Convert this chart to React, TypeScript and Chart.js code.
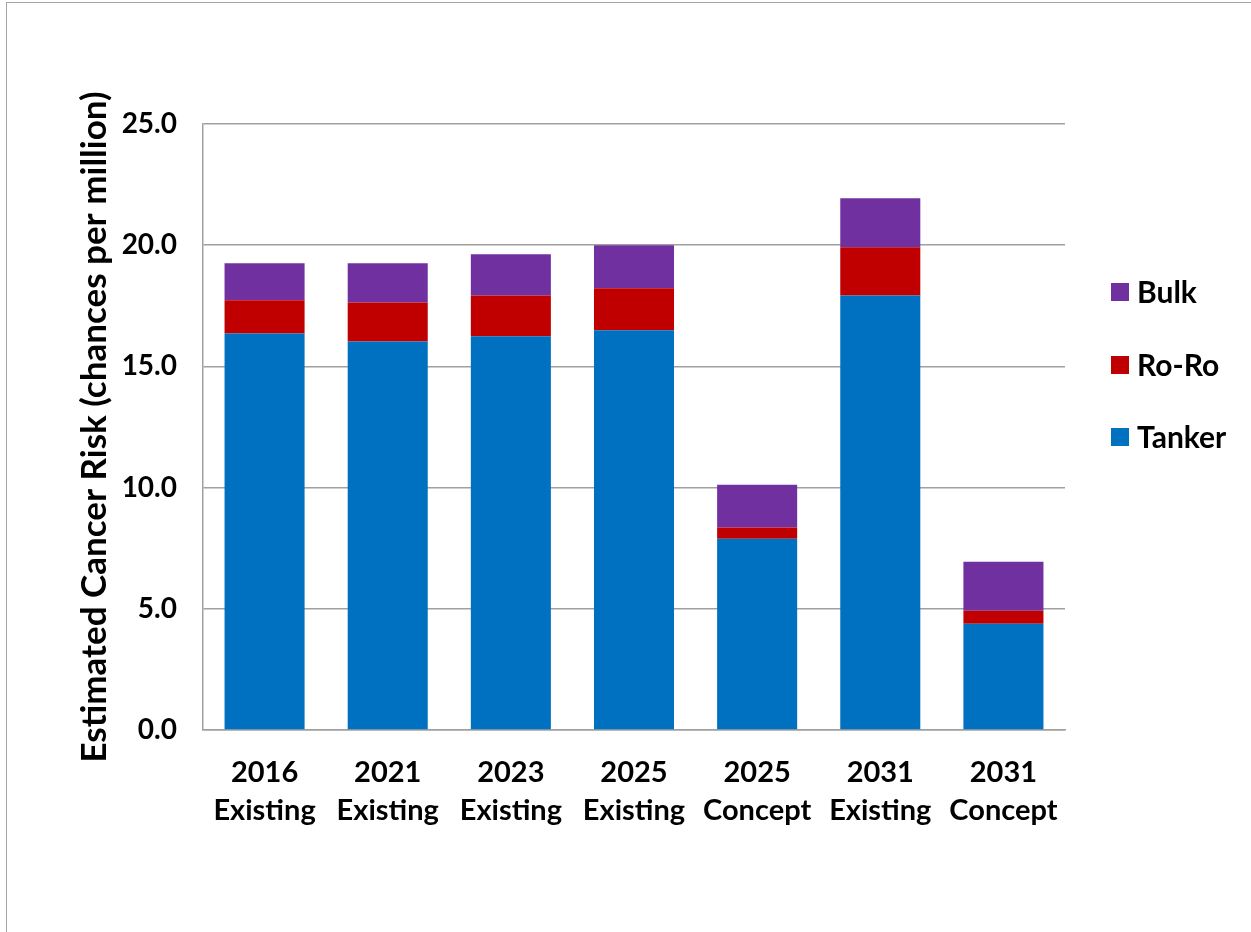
import React, { useEffect, useRef } from "react";
import { Chart, registerables } from "chart.js";

Chart.register(...registerables);

const categories: string[][] = [
  ["2016", "Existing"],
  ["2021", "Existing"],
  ["2023", "Existing"],
  ["2025", "Existing"],
  ["2025", "Concept"],
  ["2031", "Existing"],
  ["2031", "Concept"],
];
const tanker = [16.36, 16.03, 16.24, 16.49, 7.89, 17.93, 4.38];
const roro = [1.37, 1.61, 1.69, 1.73, 0.46, 1.99, 0.54];
const bulk = [1.53, 1.62, 1.7, 1.78, 1.77, 2.02, 2.02];
const legendOrder = ["Bulk", "Ro-Ro", "Tanker"];

const FONT = "Lato, 'Open Sans', sans-serif";

const legendPlugin = {
  id: "customLegend",
  afterDraw(chart: any) {
    const ctx = chart.ctx;
    const ys = [292, 365, 437];
    ctx.save();
    legendOrder.forEach((name, i) => {
      const ds = chart.data.datasets.find((d: any) => d.label === name);
      ctx.fillStyle = ds.backgroundColor;
      ctx.fillRect(1111, ys[i] - 9, 18, 18);
      ctx.fillStyle = "#000";
      ctx.font = `bold 30px ${FONT}`;
      ctx.textBaseline = "middle";
      ctx.textAlign = "left";
      ctx.fillText(name, 1137, ys[i] + 1);
    });
    ctx.restore();
  },
};

export default function App() {
  const ref = useRef<HTMLCanvasElement>(null);
  useEffect(() => {
    document.body.style.margin = "0";
    const chart = new Chart(ref.current!, {
      type: "bar",
      data: {
        labels: categories,
        datasets: [
          { label: "Tanker", data: tanker, backgroundColor: "#0070C0" },
          { label: "Ro-Ro", data: roro, backgroundColor: "#C00000" },
          { label: "Bulk", data: bulk, backgroundColor: "#7030A0" },
        ],
      },
      options: {
        animation: false,
        responsive: false,
        devicePixelRatio: 1,
        layout: { padding: { left: 74, top: 124, right: 186, bottom: 0 } },
        datasets: { bar: { barPercentage: 0.65, categoryPercentage: 1 } },
        plugins: { legend: { display: false }, tooltip: { enabled: false } },
        scales: {
          x: {
            stacked: true,
            grid: { display: false, drawTicks: false },
            border: { color: "#a0a0a0", width: 1.5 },
            ticks: {
              color: "#000",
              font: { family: FONT, size: 29, weight: "bold", lineHeight: 1.31 },
              padding: 24,
              maxRotation: 0,
            },
            afterFit: (s: any) => {
              s.height = 202;
            },
          },
          y: {
            stacked: true,
            min: 0,
            max: 25,
            ticks: {
              stepSize: 5,
              color: "#000",
              font: { family: FONT, size: 28, weight: "bold" },
              padding: 26,
              callback: (v: any) => Number(v).toFixed(1),
            },
            grid: { color: "#a0a0a0", lineWidth: 1.5, drawTicks: false },
            border: { color: "#a0a0a0", width: 1.5 },
            title: {
              display: true,
              text: "Estimated Cancer Risk (chances per million)",
              color: "#000",
              font: { family: FONT, size: 35, weight: "bold" },
              padding: 0,
            },
            afterFit: (s: any) => {
              s.width = 129;
            },
          },
        },
      },
      plugins: [legendPlugin],
    });
    return () => chart.destroy();
  }, []);
  return (
    <div style={{ position: "relative", width: 1251, height: 932, overflow: "hidden", background: "#fff" }}>
      <div
        style={{
          position: "absolute",
          left: 6,
          top: 2,
          width: 1300,
          height: 1000,
          borderLeft: "1.5px solid #a6a6a6",
          borderTop: "1.5px solid #a6a6a6",
        }}
      />
      <canvas ref={ref} width={1251} height={932} style={{ position: "absolute", left: 0, top: 0 }} />
    </div>
  );
}
